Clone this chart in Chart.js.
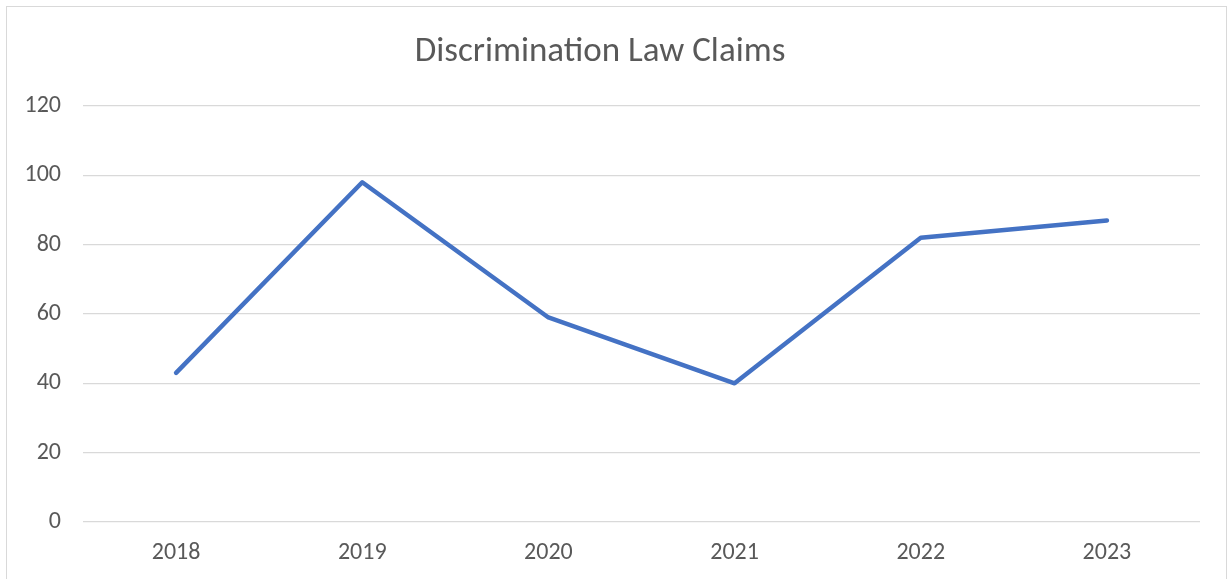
<!DOCTYPE html>
<html>
<head>
<meta charset="utf-8">
<script src="https://cdn.jsdelivr.net/npm/chart.js@4"></script>
<style>
    body { margin: 0; background: #fff; }
    #cadre { position: relative; width: 1230px; height: 579px; overflow: hidden; }
    #bord { position: absolute; left: 6px; top: 6px; width: 1221px; height: 640px; border: 1.5px solid #d9d9d9; box-sizing: border-box; }
    canvas { position: absolute; left: 0; top: 0; }
</style>
</head>
<body>
<div id="cadre">
    <div id="bord"></div>
    <canvas id="graphique" width="1230" height="579"></canvas>
</div>
<script>
// Données du graphique
const annees = ["2018", "2019", "2020", "2021", "2022", "2023"];
const reclamations = [43, 98, 59, 40, 82, 87];
const titre = "Discrimination Law Claims";

const police = "Carlito, Lato, 'Open Sans', sans-serif";

const data = {
    labels: annees,
    datasets: [{
        label: "Claims",
        data: reclamations,
        borderColor: "#4472C4",
        borderWidth: 4.5,
        borderCapStyle: "round",
        borderJoinStyle: "round",
        pointRadius: 0,
        tension: 0,
        fill: false,
    }],
};

const config = {
    type: "line",
    data: data,
    options: {
        responsive: false,
        animation: false,
        layout: { padding: { top: 10, right: 30, bottom: 0, left: 0 } },
        plugins: {
            legend: { display: false },
            tooltip: { enabled: false },
            title: {
                display: true,
                text: titre,
                color: "#595959",
                font: { family: police, size: 35, weight: "normal" },
                padding: { top: 21, bottom: 33 },
            },
        },
        scales: {
            x: {
                offset: true,
                grid: { display: false, drawTicks: false },
                border: { display: false },
                ticks: { color: "#595959", font: { family: police, size: 24 }, padding: 17 },
                afterFit: function (scale) { scale.height = 57; },
            },
            y: {
                min: 0,
                max: 120,
                grid: { color: "#d9d9d9", lineWidth: 1.3, drawTicks: false },
                border: { display: false },
                ticks: { stepSize: 20, color: "#595959", font: { family: police, size: 24 }, padding: 22 },
                afterFit: function (scale) { scale.width = 83; },
            },
        },
    },
};

new Chart(document.querySelector("#graphique"), config);
</script>
</body>
</html>
